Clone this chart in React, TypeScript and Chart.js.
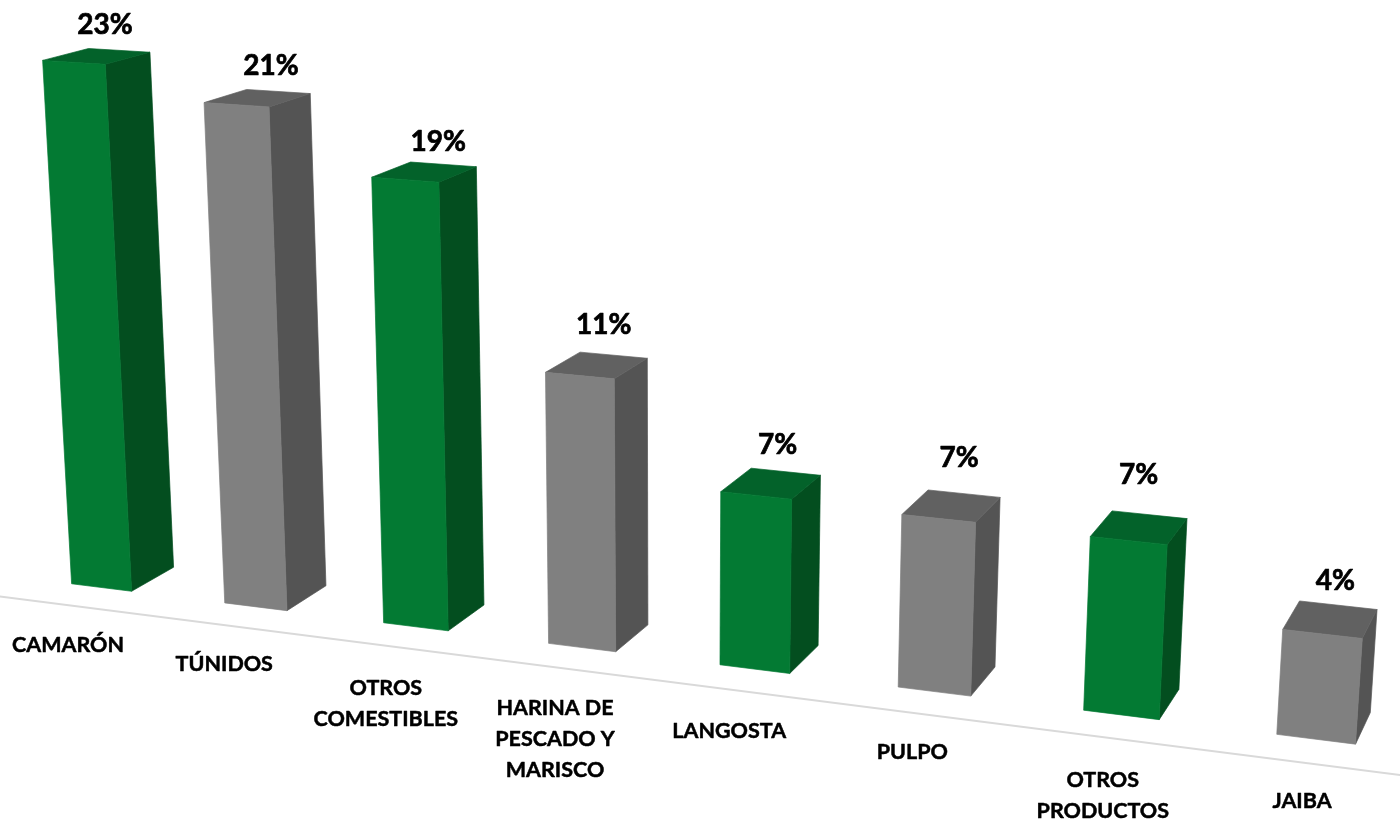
import React, { useEffect, useRef } from "react";
import { Chart, registerables } from "chart.js";

Chart.register(...registerables);

const categories: (string | string[])[] = [
  "CAMARÓN",
  "TÚNIDOS",
  ["OTROS", "COMESTIBLES"],
  ["HARINA DE", "PESCADO Y", "MARISCO"],
  "LANGOSTA",
  "PULPO",
  ["OTROS", "PRODUCTOS"],
  "JAIBA",
];
const shares = [22.8, 21.48, 18.9, 11.48, 7.27, 7.12, 7.04, 4.2];

const GREEN = { front: "#037A33", side: "#034E1F", top: "#03622A" };
const GRAY = { front: "#808080", side: "#545454", top: "#616161" };
const palette = [GREEN, GRAY, GREEN, GRAY, GREEN, GRAY, GREEN, GRAY];

// hand placement of the labels relative to their bars, as in the source slide
const valueLabelNudge = [
  [31, -37], [34.5, -39], [33, -38], [24, -51], [21.5, -50], [20.5, -60], [10, -66], [13, -53],
];
const categoryLabelNudge = [
  [-33.5, 58], [-31.5, 57], [-30, 61], [-27, 60.5], [-25.5, 62], [-22, 60.5], [-18.5, 65], [-14, 61.5],
];

// Camera: projective map from (category index, value, depth) to the page
const CAM = {
  a: 101.5, b: 149.6, gx: -1.362, kx: 46.03,
  d: 587.5, e: 8.25, gy: -23.16, ky: -10.19,
  c: -0.01816, h: -0.002026, k: 0.0242,
};
function project(i: number, v: number, t: number): [number, number] {
  const w = 1 + CAM.c * i + CAM.h * v + CAM.k * t;
  return [
    (CAM.a + CAM.b * i + CAM.gx * v + CAM.kx * t) / w,
    (CAM.d + CAM.e * i + CAM.gy * v + CAM.ky * t) / w,
  ];
}

function poly(ctx: CanvasRenderingContext2D, pts: [number, number][], fill: string) {
  ctx.beginPath();
  pts.forEach((p, n) => (n ? ctx.lineTo(p[0], p[1]) : ctx.moveTo(p[0], p[1])));
  ctx.closePath();
  ctx.fillStyle = fill;
  ctx.strokeStyle = fill;
  ctx.lineWidth = 0.7;
  ctx.lineJoin = "round";
  ctx.fill();
  ctx.stroke();
}

function heavyText(ctx: CanvasRenderingContext2D, s: string, x: number, y: number, weight: number) {
  ctx.lineWidth = weight;
  ctx.lineJoin = "round";
  ctx.strokeStyle = "#000000";
  ctx.strokeText(s, x, y);
  ctx.fillText(s, x, y);
}

const prismPlugin = {
  id: "prism",
  beforeDatasetDraw(chart: any) {
    const { ctx, scales } = chart;
    const xs = scales.x;
    const ys = scales.y;
    const step = xs.getPixelForValue(1) - xs.getPixelForValue(0);
    const toIndex = (px: number) => (px - xs.getPixelForValue(0)) / step;

    ctx.save();
    // floor line (category axis)
    const a = project(-1, 0, -0.72);
    const b = project(8, 0, -0.72);
    ctx.beginPath();
    ctx.moveTo(a[0], a[1]);
    ctx.lineTo(b[0], b[1]);
    ctx.lineWidth = 2;
    ctx.strokeStyle = "#D9D9D9";
    ctx.stroke();

    chart.getDatasetMeta(0).data.forEach((el: any, n: number) => {
      const p = el.getProps(["x", "y", "base", "width"], true);
      const i = toIndex(p.x);
      const half = p.width / step / 2;
      const v0 = ys.getValueForPixel(p.base);
      const v1 = ys.getValueForPixel(p.y);
      const L = i - half;
      const R = i + half;
      const c = palette[n];
      poly(ctx, [project(R, v0, 0), project(R, v1, 0), project(R, v1, 1), project(R, v0, 1)], c.side);
      poly(ctx, [project(L, v1, 0), project(R, v1, 0), project(R, v1, 1), project(L, v1, 1)], c.top);
      poly(ctx, [project(L, v0, 0), project(R, v0, 0), project(R, v1, 0), project(L, v1, 0)], c.front);
    });
    ctx.restore();
    return false;
  },
  afterDatasetsDraw(chart: any) {
    const { ctx, scales } = chart;
    const xs = scales.x;
    const ys = scales.y;
    const step = xs.getPixelForValue(1) - xs.getPixelForValue(0);
    ctx.save();
    ctx.fillStyle = "#000000";
    ctx.textAlign = "center";
    ctx.textBaseline = "middle";
    chart.getDatasetMeta(0).data.forEach((el: any, n: number) => {
      const i = (el.x - xs.getPixelForValue(0)) / step;
      const value = chart.data.datasets[0].data[n] as number;
      const top = project(i, ys.getValueForPixel(el.y), 0);
      ctx.font = "bold 28px Lato";
      heavyText(
        ctx,
        `${Math.round(value)}%`,
        top[0] + valueLabelNudge[n][0],
        top[1] + valueLabelNudge[n][1],
        0.7
      );
      const base = project(i, 0, 0);
      const label = chart.data.labels[n];
      const lines = Array.isArray(label) ? label : [label];
      ctx.font = "bold 21.5px Lato";
      lines.forEach((line: string, k: number) => {
        heavyText(
          ctx,
          line,
          base[0] + categoryLabelNudge[n][0],
          base[1] + categoryLabelNudge[n][1] + k * 31,
          0.5
        );
      });
    });
    ctx.restore();
  },
};

export default function App() {
  const ref = useRef<HTMLCanvasElement>(null);
  useEffect(() => {
    document.body.style.margin = "0";
    document.body.style.background = "#ffffff";
    const chart = new Chart(ref.current!, {
      type: "bar",
      data: {
        labels: categories as any,
        datasets: [
          {
            data: shares,
            backgroundColor: palette.map((p) => p.front),
            categoryPercentage: 1,
            barPercentage: 0.396,
          },
        ],
      },
      options: {
        responsive: false,
        animation: false,
        layout: { padding: 0 },
        plugins: { legend: { display: false }, tooltip: { enabled: false } },
        scales: {
          x: { display: false },
          y: { display: false, min: 0, max: 25 },
        },
      },
      plugins: [prismPlugin as any],
    });
    return () => chart.destroy();
  }, []);
  return (
    <div style={{ width: 1400, height: 819, overflow: "hidden" }}>
      <canvas ref={ref} width={1400} height={819} style={{ display: "block" }} />
    </div>
  );
}
